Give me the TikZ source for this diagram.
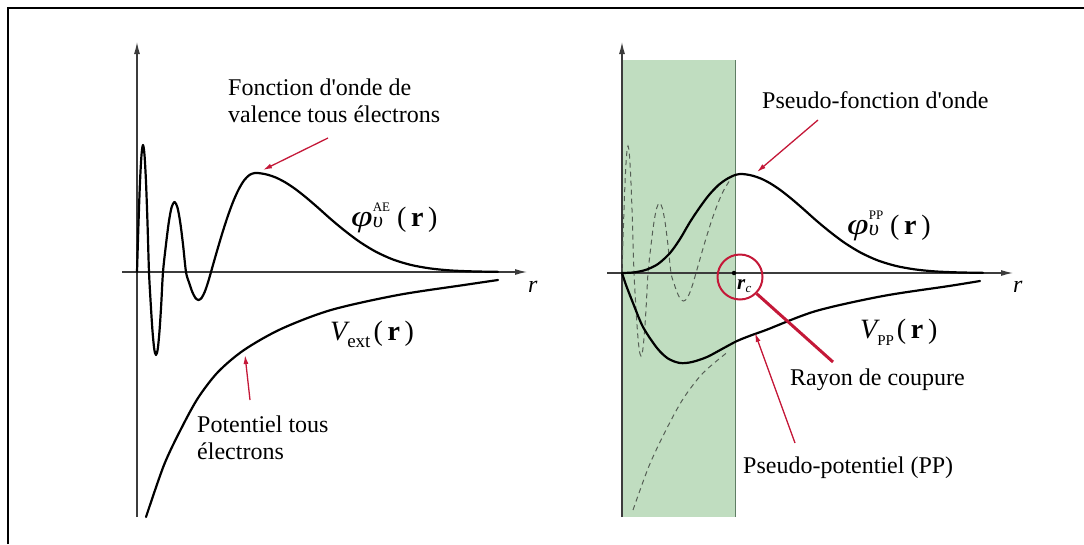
\documentclass[tikz,border=0pt]{standalone}
\usepackage{fontspec}
\setmainfont{Liberation Serif}[Ligatures=TeXOff]
\usetikzlibrary{arrows.meta}
\definecolor{leaf}{RGB}{192,221,192}
\definecolor{leafedge}{RGB}{95,125,100}
\definecolor{mred}{RGB}{196,24,56}
\definecolor{axisgray}{RGB}{60,60,60}
\definecolor{dashgray}{RGB}{85,95,85}
\tikzset{
  axisline/.style={draw=axisgray, line width=1.2pt, -{Latex[length=12pt,width=6pt]}},
  curve/.style={line width=2.2pt, line join=round, line cap=round},
  dcurve/.style={draw=dashgray, line width=1pt, dash pattern=on 5pt off 4pt},
  lbl/.style={font=\fontsize{24}{27}\selectfont, align=left, inner sep=0pt},
  mlbl/.style={inner sep=0pt, anchor=base west},
  redarrow/.style={draw=mred, line width=1.3pt, -{Latex[length=9pt,width=5pt]}},
  redline/.style={draw=mred, line width=3pt},
}
\newcommand{\bigf}{\fontsize{28}{28}\selectfont}
\newcommand{\philbl}[1]{{\fontsize{30}{30}\selectfont\itshape\scalebox{1.3}[1]{φ}}\rlap{\raisebox{-1pt}{\fontsize{22}{22}\selectfont\itshape υ}}\raisebox{15pt}{\fontsize{13}{13}\selectfont #1}\hspace{7pt}{\bigf(\,\textbf{r}\,)}}
\begin{document}
\begin{tikzpicture}[x=1pt, y=-1pt]
\useasboundingbox (0,0) rectangle (1084,544);
% frame (top and left edges)
\draw[line width=2.6pt] (8,544) -- (8,8) -- (1084,8);

% ---------------- left panel ----------------
\coordinate (Lb) at (137,517);
\coordinate (Lt) at (137,42);
\coordinate (Ll) at (122,272);
\coordinate (Lr) at (527,272);
\draw[axisline] (Lb) -- (Lt);
\draw[axisline] (Ll) -- (Lr);
\node[font=\fontsize{24}{24}\selectfont\itshape, inner sep=0pt, anchor=base west] (rL) at (528,292) {r};

\begin{scope}[shift={(137,272)}, yscale=-1]
\draw[curve] plot[smooth] coordinates {(0,0) (1.5,49) (3,90) (4.5,117) (6,127) (7.5,117) (9,90) (10.5,49) (12,0) (13.75,-32) (15.5,-59) (17.25,-77) (19,-83) (20.75,-77) (22.5,-59) (24.25,-32) (26,0) (28.9,26.8) (31.75,49.5) (34.6,64.7) (37.5,70) (40.4,64.7) (43.25,49.5) (46.1,26.8) (49,0) (52.1,-10.7) (55.25,-19.8) (58.4,-25.9) (61.5,-28) (64.6,-25.9) (67.75,-19.8) (70.9,-10.7) (74,0) (79.5,19.3) (85,37.9) (90.5,55) (96,70) (101.5,82.3) (107,91.5) (112.5,97.1) (118,99) (124,98.6) (131,97.2) (139,94.4) (148,89.8) (158,83.2) (169,74.6) (181,64.3) (194,52.7) (208,41.1) (223,29.9) (239,20.2) (256,12.5) (274,7.05) (293,3.6) (313,1.6) (336,0.6) (361,0.15)};
\draw[curve] plot[smooth] coordinates {(9,-245) (27,-193) (44,-157) (61,-126) (81,-100) (107,-78) (144,-57) (194,-38) (261,-23) (327,-13) (361,-8)};
\end{scope}

\node[lbl, anchor=north west] (lblAE) at (228,79) {Fonction d'onde de\\valence tous électrons};
\coordinate (aeT) at (328,138);
\coordinate (aeH) at (263,170);
\draw[redarrow] (aeT) -- (aeH);

\node[lbl, anchor=north west] (lblVext) at (197,416) {Potentiel tous\\électrons};
\coordinate (veT) at (250,400);
\coordinate (veH) at (245,355);
\draw[redarrow] (veT) -- (veH);

\node[mlbl] (phiAE) at (351,226) {\philbl{AE}};
\node[mlbl] (Vext) at (330,340) {{\bigf\itshape V}\raisebox{-7pt}{\fontsize{19}{19}\selectfont ext}\hspace{3pt}{\bigf(\,\textbf{r}\,)}};

% ---------------- right panel ----------------
\fill[leaf] (622,60) rectangle (735,517);
\draw[leafedge, line width=1pt] (735,60) -- (735,517);
\coordinate (Rb) at (622,517);
\coordinate (Rt) at (622,42);
\coordinate (Rl) at (607,273);
\coordinate (Rr) at (1013,273);
\draw[axisline] (Rb) -- (Rt);
\draw[axisline] (Rl) -- (Rr);
\node[font=\fontsize{24}{24}\selectfont\itshape, inner sep=0pt, anchor=base west] (rR) at (1013,292) {r};

\begin{scope}[shift={(622,273)}, yscale=-1]
\draw[dcurve] plot[smooth] coordinates {(0,0) (1.5,49) (3,90) (4.5,117) (6,127) (7.5,117) (9,90) (10.5,49) (12,0) (13.75,-32) (15.5,-59) (17.25,-77) (19,-83) (20.75,-77) (22.5,-59) (24.25,-32) (26,0) (28.9,26.8) (31.75,49.5) (34.6,64.7) (37.5,70) (40.4,64.7) (43.25,49.5) (46.1,26.8) (49,0) (52.1,-10.7) (55.25,-19.8) (58.4,-25.9) (61.5,-28) (64.6,-25.9) (67.75,-19.8) (70.9,-10.7) (74,0) (79.5,19.3) (85,37.9) (90.5,55) (96,70) (101.5,82.3) (107,91.5)};
\draw[dcurve] plot[smooth] coordinates {(11,-237) (27,-193) (44,-157) (61,-126) (81,-100) (107,-78)};
\draw[curve] plot[smooth] coordinates {(0,0) (12,0.6) (24,3.2) (36,9) (48,20) (58,34) (68,51) (78,66) (87,78) (96,87.5) (104,93.5) (112,97.6) (118,99) (124,98.6) (131,97.2) (139,94.4) (148,89.8) (158,83.2) (169,74.6) (181,64.3) (194,52.7) (208,41.1) (223,29.9) (239,20.2) (256,12.5) (274,7.05) (293,3.6) (313,1.6) (336,0.6) (361,0.15)};
\draw[curve] plot[smooth] coordinates {(0,0) (4,-12) (11,-30) (21,-54) (35,-75) (46,-85.5) (58,-90) (70,-89) (85,-84) (100,-76) (115,-68) (130,-62) (144,-57) (194,-38) (261,-23) (327,-13) (358,-8)};
\end{scope}

\node[lbl, anchor=base west] (lblPP) at (762,108) {Pseudo-fonction d'onde};
\coordinate (ppT) at (818,120);
\coordinate (ppH) at (757,172);
\draw[redarrow] (ppT) -- (ppH);

\node[mlbl] (phiPP) at (847,234) {\philbl{PP}};
\node[mlbl] (Vpp) at (860,338) {{\bigf\itshape V}\raisebox{-7pt}{\fontsize{15}{15}\selectfont PP}\hspace{3pt}{\bigf(\,\textbf{r}\,)}};

% cut-off radius
\node[circle, fill=black, inner sep=0pt, minimum size=4.5pt] (rcdot) at (734,273) {};
\node[font=\fontsize{21}{21}\selectfont, inner sep=0pt, anchor=base west] (rclbl) at (737,289) {\textit{\textbf{r}}\raisebox{-3pt}{\fontsize{13}{13}\selectfont\itshape c}};
\node[circle, draw=mred, line width=2pt, minimum size=45pt, inner sep=0pt] (rcring) at (740,277) {};
\node[lbl, anchor=base west] (lblRc) at (790,385) {Rayon de coupure};
\coordinate (rcEnd) at (833,362);
\draw[redline] (rcring.-45) -- (rcEnd);

\node[lbl, anchor=base west] (lblVpp) at (743,473) {Pseudo-potentiel (PP)};
\coordinate (vpT) at (795,443);
\coordinate (vpH) at (755,333);
\draw[redarrow] (vpT) -- (vpH);
\end{tikzpicture}
\end{document}
